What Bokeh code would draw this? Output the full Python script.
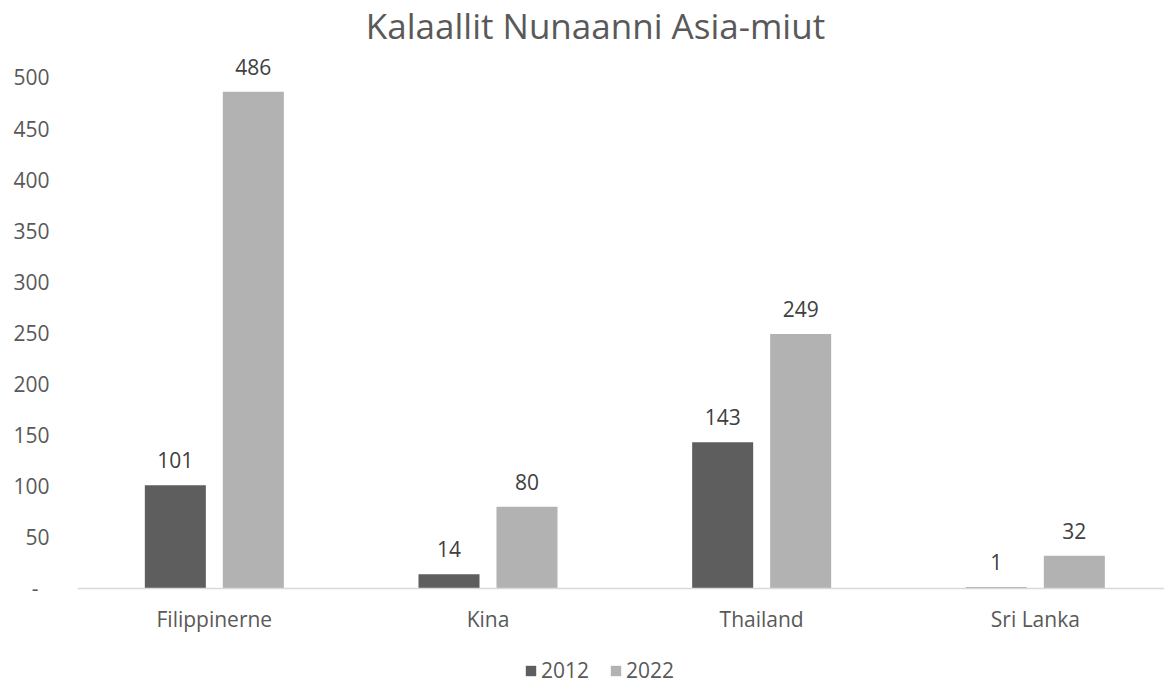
from bokeh.plotting import figure
from bokeh.models import ColumnDataSource, Range1d, FixedTicker, Legend, LegendItem, Span, Label
from bokeh.core.properties import value
from bokeh.embed import file_html
from bokeh.resources import INLINE

title_text = "Kalaallit Nunaanni Asia-miut"
categories = ["Filippinerne", "Kina", "Thailand", "Sri Lanka"]
series_names = ["2012", "2022"]
values_2012 = [101, 14, 143, 1]
values_2022 = [486, 80, 249, 32]
y_ticks = [0, 50, 100, 150, 200, 250, 300, 350, 400, 450, 500]

colors = ["#5E5E5E", "#B2B2B2"]
FONT = "Open Sans"
offset = 0.1425
bar_w = 0.223

p = figure(width=1164, height=686, output_backend="svg", toolbar_location=None,
           x_range=Range1d(-0.5, 3.472), y_range=Range1d(-95.9, 575.3),
           x_axis_location=None,
           min_border_left=77, min_border_right=0, min_border_top=0, min_border_bottom=0)
p.outline_line_color = None
p.grid.visible = False
p.background_fill_color = "white"

# title (screen units relative to the plot frame)
p.add_layout(Label(x=518, y=661, x_units="screen", y_units="screen", text=title_text,
                   text_align="center", text_baseline="middle", text_font=FONT,
                   text_font_size="35px", text_color="#595959"))

# baseline
p.add_layout(Span(location=0, dimension="width", line_color="#D9D9D9", line_width=1.5))

idx = list(range(len(categories)))
renderers = []
for k, (vals, col) in enumerate(zip([values_2012, values_2022], colors)):
    sign = -1 if k == 0 else 1
    xs = [i + sign * offset for i in idx]
    src = ColumnDataSource(dict(x=xs, top=vals, lab=[str(v) for v in vals]))
    r = p.vbar(x="x", top="top", width=bar_w, bottom=0, source=src, fill_color=col, line_color=None)
    renderers.append(r)
    p.text(x="x", y="top", text="lab", source=src, text_align="center", text_baseline="middle",
           y_offset=-25, text_font=value(FONT), text_font_size="21px", text_color="#404040")

# category labels
cat_src = ColumnDataSource(dict(x=idx, y=[0] * len(idx), lab=categories))
p.text(x="x", y="y", text="lab", source=cat_src, text_align="center", text_baseline="middle",
       y_offset=31, text_font=value(FONT), text_font_size="21px", text_color="#595959")

# y axis
p.yaxis.ticker = FixedTicker(ticks=y_ticks)
p.yaxis.major_label_overrides = {0: "-\u00a0\u00a0"}
p.yaxis.axis_line_color = None
p.yaxis.major_tick_line_color = None
p.yaxis.minor_tick_line_color = None
p.yaxis.major_tick_out = 0
p.yaxis.major_label_standoff = 28
p.yaxis.major_label_text_font = FONT
p.yaxis.major_label_text_font_size = "21px"
p.yaxis.major_label_text_color = "#595959"

legend = Legend(items=[LegendItem(label=n, renderers=[r]) for n, r in zip(series_names, renderers)],
                orientation="horizontal", location=(447, 2), border_line_color=None,
                background_fill_alpha=0,
                label_text_font=FONT, label_text_font_size="21px", label_text_color="#595959",
                glyph_width=13, glyph_height=13, label_standoff=4, spacing=20,
                padding=0, margin=0)
p.add_layout(legend)

open("out.html", "w").write(file_html(p, INLINE))
